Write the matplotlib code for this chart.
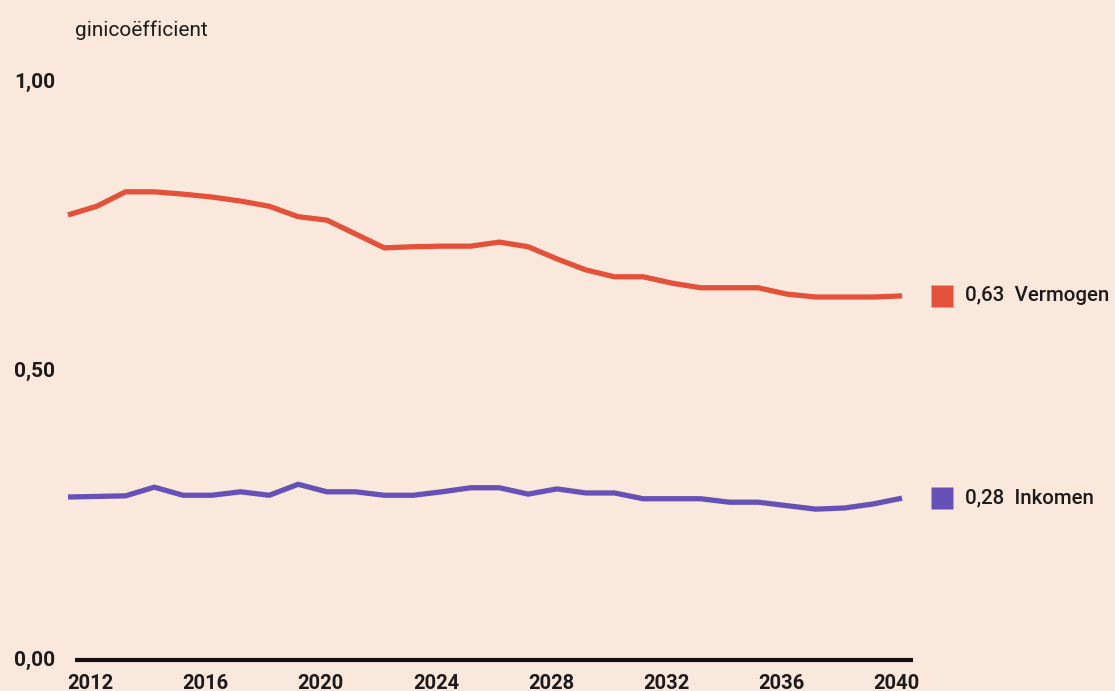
import matplotlib
matplotlib.use("Agg")
import matplotlib.pyplot as plt
import matplotlib.transforms as mtransforms

# Gini coefficients, 2011-2040
years = list(range(2011, 2041))
vermogen = [0.770, 0.785, 0.810, 0.810, 0.806, 0.801, 0.794, 0.785, 0.767, 0.761,
            0.737, 0.713, 0.715, 0.716, 0.716, 0.723, 0.715, 0.694, 0.675, 0.663,
            0.663, 0.652, 0.644, 0.644, 0.644, 0.633, 0.628, 0.628, 0.628, 0.630]
inkomen = [0.282, 0.283, 0.284, 0.299, 0.285, 0.285, 0.291, 0.285, 0.304, 0.291,
           0.291, 0.285, 0.285, 0.291, 0.298, 0.298, 0.287, 0.296, 0.289, 0.289,
           0.279, 0.279, 0.279, 0.273, 0.273, 0.267, 0.261, 0.263, 0.270, 0.280]
series_names = ["Vermogen", "Inkomen"]
x_ticks = [2012, 2016, 2020, 2024, 2028, 2032, 2036, 2040]
y_ticks = [0.0, 0.5, 1.0]
y_tick_labels = ["0,00", "0,50", "1,00"]

BG = "#fae8dd"
RED = "#e4513b"
BLUE = "#6652b6"
INK = "#1c1a1a"

W, H = 1115, 691
fig = plt.figure(figsize=(W / 100, H / 100), dpi=100, facecolor=BG)
ax = fig.add_axes([68 / W, (H - 660) / H, 834 / W, 578 / H])
ax.set_facecolor(BG)
ax.set_xlim(2011, 2040)
ax.set_ylim(0, 1)

lw = 3.8
ax.plot(years, vermogen, color=RED, lw=lw, solid_capstyle="butt",
        solid_joinstyle="round", clip_on=False, zorder=3)
ax.plot(years, inkomen, color=BLUE, lw=lw, solid_capstyle="butt",
        solid_joinstyle="round", clip_on=False, zorder=3)

# axes styling
for side in ["top", "right", "left"]:
    ax.spines[side].set_visible(False)
ax.spines["bottom"].set_linewidth(3.0)
ax.spines["bottom"].set_color("#111111")
ax.spines["bottom"].set_bounds(2011.24, 2040.38)
ax.spines["bottom"].set_capstyle("butt")

ax.set_xticks(x_ticks)
ax.set_xticklabels([str(t) for t in x_ticks])
ax.tick_params(axis="x", length=0, pad=10, labelsize=14.5, colors=INK)
for lbl in ax.get_xticklabels():
    lbl.set_fontfamily("Roboto")
    lbl.set_fontweight("bold")
    lbl.set_transform(lbl.get_transform() +
                      mtransforms.ScaledTranslation(-6 / 100, 0, fig.dpi_scale_trans))

# y tick labels, left-aligned near the figure edge
ax.set_yticks([])
ytrans = mtransforms.blended_transform_factory(
    mtransforms.offset_copy(ax.transAxes, fig, x=-54, y=0, units="dots"), ax.transData)
for val, txt in zip(y_ticks, y_tick_labels):
    ax.text(0, val, txt, transform=ytrans, ha="left", va="center",
            fontsize=15, fontweight="bold", family="Roboto", color=INK)

fig.text(75 / W, 1 - 30 / H, "ginicoëfficient", ha="left", va="center",
         fontsize=15, family="Roboto", color=INK)

# end-of-line labels
for vals, name, col in [(vermogen, series_names[0], RED), (inkomen, series_names[1], BLUE)]:
    sq = mtransforms.offset_copy(ax.transData, fig, x=40, y=0, units="dots")
    ax.plot([years[-1]], [vals[-1]], marker="s", ms=16, color=col, mec="none",
            transform=sq, clip_on=False)
    tt = mtransforms.offset_copy(ax.transData, fig, x=63, y=0, units="dots")
    ax.text(years[-1], vals[-1], f"{vals[-1]:.2f}".replace(".", ",") + "  " + name,
            transform=tt, ha="left", va="center", fontsize=14.8,
            family="Roboto", fontweight="medium", color=INK)

fig.savefig("out.png", dpi=100, facecolor=BG)
